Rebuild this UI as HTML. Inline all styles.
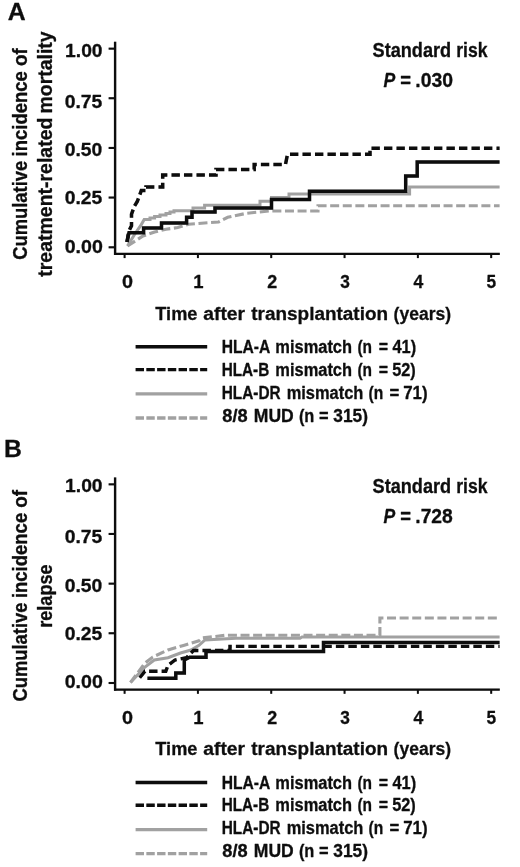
<!DOCTYPE html>
<html lang="en">
<head>
<meta charset="utf-8">
<title>Cumulative incidence curves</title>
<style>
html,body{margin:0;padding:0;background:#ffffff;}
body{width:520px;height:867px;overflow:hidden;font-family:"Liberation Sans",sans-serif;}
svg{display:block;position:absolute;left:0;top:0;opacity:0.999;will-change:transform;}
svg text{font-family:"Liberation Sans",sans-serif;font-weight:bold;fill:#101010;stroke:#101010;stroke-width:0.3px;stroke-linejoin:round;}
</style>
</head>
<body>
<svg width="520" height="867" viewBox="0 0 520 867">
<defs><filter id="soft" x="0" y="0" width="520" height="867" filterUnits="userSpaceOnUse"><feGaussianBlur stdDeviation="0.45"/></filter></defs>
<rect x="0" y="0" width="520" height="867" fill="#ffffff"/>
<g filter="url(#soft)">

<!-- panel letters -->
<text transform="translate(7.78,19.80) scale(1.0498,1.0000)" font-size="23.6">A</text>
<text transform="translate(3.93,457.10) scale(1.0489,1.0000)" font-size="23.6">B</text>
<!-- panel A: axes -->
<path d="M115.1,41.70 V255.00" stroke="#080808" stroke-width="2.4" fill="none"/>
<path d="M114,253.90 H499.8" stroke="#080808" stroke-width="2.3" fill="none"/>
<path d="M108.6,247.30 H115" stroke="#080808" stroke-width="2.1" fill="none"/>
<path d="M108.6,197.55 H115" stroke="#080808" stroke-width="2.1" fill="none"/>
<path d="M108.6,147.95 H115" stroke="#080808" stroke-width="2.1" fill="none"/>
<path d="M108.6,98.25 H115" stroke="#080808" stroke-width="2.1" fill="none"/>
<path d="M108.6,48.65 H115" stroke="#080808" stroke-width="2.1" fill="none"/>
<path d="M124.60,253.90 V258.10" stroke="#080808" stroke-width="2" fill="none"/>
<path d="M197.92,253.90 V258.10" stroke="#080808" stroke-width="2" fill="none"/>
<path d="M271.24,253.90 V258.10" stroke="#080808" stroke-width="2" fill="none"/>
<path d="M344.56,253.90 V258.10" stroke="#080808" stroke-width="2" fill="none"/>
<path d="M417.88,253.90 V258.10" stroke="#080808" stroke-width="2" fill="none"/>
<path d="M491.20,253.90 V258.10" stroke="#080808" stroke-width="2" fill="none"/>
<!-- panel A: tick labels -->
<text transform="translate(64.72,252.50) scale(1.0522,1.0000)" font-size="18.6">0.00</text>
<text transform="translate(64.73,204.20) scale(1.0395,1.0000)" font-size="18.6">0.25</text>
<text transform="translate(64.73,156.20) scale(1.0407,1.0000)" font-size="18.6">0.50</text>
<text transform="translate(64.73,107.50) scale(1.0395,1.0000)" font-size="18.6">0.75</text>
<text transform="translate(65.10,56.60) scale(1.0359,1.0000)" font-size="18.6">1.00</text>
<text transform="translate(122.11,288.10) scale(1.0640,1.0000)" font-size="18.6">0</text>
<text transform="translate(193.14,288.10) scale(0.9943,1.0000)" font-size="18.6">1</text>
<text transform="translate(267.17,288.10) scale(0.9633,1.0000)" font-size="18.6">2</text>
<text transform="translate(340.31,288.10) scale(0.9294,1.0000)" font-size="18.6">3</text>
<text transform="translate(413.44,288.10) scale(0.9446,1.0000)" font-size="18.6">4</text>
<text transform="translate(486.48,288.10) scale(0.9294,1.0000)" font-size="18.6">5</text>
<text transform="translate(155.32,319.50) scale(0.9466,1.0000)" font-size="19.2">Time</text>
<text transform="translate(203.22,319.50) scale(1.0061,1.0000)" font-size="19.2">after</text>
<text transform="translate(251.26,319.50) scale(0.9870,1.0000)" font-size="19.2">transplantation</text>
<text transform="translate(393.62,319.50) scale(0.9123,1.0000)" font-size="19.2">(years)</text>
<!-- panel A: legend -->
<path d="M135.6,346.80 H207.2" stroke="#080808" stroke-width="3.4" fill="none"/>
<path d="M135.6,369.60 H207.2" stroke="#080808" stroke-width="3.4" stroke-dasharray="8.4 2.35" fill="none"/>
<path d="M135.6,393.90 H207.2" stroke="#a1a1a1" stroke-width="3.3" fill="none"/>
<path d="M135.6,418.00 H207.2" stroke="#a1a1a1" stroke-width="3.3" stroke-dasharray="8.4 2.35" fill="none"/>
<text transform="translate(221.65,353.00) scale(0.9299,1.0600)" font-size="16.8">HLA-A</text>
<text transform="translate(275.33,353.00) scale(0.9789,1.0600)" font-size="16.8">mismatch</text>
<text transform="translate(357.43,353.00) scale(0.9224,1.0600)" font-size="16.8">(n</text>
<text transform="translate(378.72,353.00) scale(0.9524,1.0600)" font-size="16.8">=</text>
<text transform="translate(392.45,353.00) scale(0.9748,1.0600)" font-size="16.8">41)</text>
<text transform="translate(221.67,375.50) scale(0.9115,1.0600)" font-size="16.8">HLA-B</text>
<text transform="translate(275.33,375.50) scale(0.9789,1.0600)" font-size="16.8">mismatch</text>
<text transform="translate(357.43,375.50) scale(0.9224,1.0600)" font-size="16.8">(n</text>
<text transform="translate(378.72,375.50) scale(0.9524,1.0600)" font-size="16.8">=</text>
<text transform="translate(392.21,375.50) scale(0.9724,1.0600)" font-size="16.8">52)</text>
<text transform="translate(221.66,398.60) scale(0.9161,1.0600)" font-size="16.8">HLA-DR</text>
<text transform="translate(286.63,398.60) scale(0.9789,1.0600)" font-size="16.8">mismatch</text>
<text transform="translate(368.62,398.60) scale(0.9295,1.0600)" font-size="16.8">(n</text>
<text transform="translate(389.49,398.60) scale(1.0000,1.0600)" font-size="16.8">=</text>
<text transform="translate(403.18,398.60) scale(1.0078,1.0600)" font-size="16.8">71)</text>
<text transform="translate(222.31,421.60) scale(1.0851,1.0600)" font-size="16.8">8/8</text>
<text transform="translate(253.82,421.60) scale(1.0436,1.0600)" font-size="16.8">MUD</text>
<text transform="translate(298.88,421.60) scale(0.9724,1.0600)" font-size="16.8">(n</text>
<text transform="translate(319.10,421.60) scale(0.9762,1.0600)" font-size="16.8">=</text>
<text transform="translate(333.31,421.60) scale(1.0314,1.0600)" font-size="16.8">315)</text>
<!-- panel A: annotation -->
<text transform="translate(372.56,57.00) scale(1.0082,1.0800)" font-size="18.0">Standard</text>
<text transform="translate(456.26,57.00) scale(0.9783,1.0800)" font-size="18.0">risk</text>
<text transform="translate(383.43,87.40) scale(0.9771,1.0900)" font-size="18.0" font-style="italic">P</text>
<text transform="translate(400.22,87.40) scale(1.0222,1.0900)" font-size="18.0">=</text>
<text transform="translate(415.29,87.40) scale(1.0763,1.0900)" font-size="18.0">.030</text>
<!-- panel B: axes -->
<path d="M115.1,477.40 V690.70" stroke="#080808" stroke-width="2.4" fill="none"/>
<path d="M114,689.60 H499.8" stroke="#080808" stroke-width="2.3" fill="none"/>
<path d="M108.6,683.00 H115" stroke="#080808" stroke-width="2.1" fill="none"/>
<path d="M108.6,633.25 H115" stroke="#080808" stroke-width="2.1" fill="none"/>
<path d="M108.6,583.65 H115" stroke="#080808" stroke-width="2.1" fill="none"/>
<path d="M108.6,533.95 H115" stroke="#080808" stroke-width="2.1" fill="none"/>
<path d="M108.6,484.35 H115" stroke="#080808" stroke-width="2.1" fill="none"/>
<path d="M124.60,689.60 V693.80" stroke="#080808" stroke-width="2" fill="none"/>
<path d="M197.92,689.60 V693.80" stroke="#080808" stroke-width="2" fill="none"/>
<path d="M271.24,689.60 V693.80" stroke="#080808" stroke-width="2" fill="none"/>
<path d="M344.56,689.60 V693.80" stroke="#080808" stroke-width="2" fill="none"/>
<path d="M417.88,689.60 V693.80" stroke="#080808" stroke-width="2" fill="none"/>
<path d="M491.20,689.60 V693.80" stroke="#080808" stroke-width="2" fill="none"/>
<!-- panel B: tick labels -->
<text transform="translate(64.72,688.20) scale(1.0522,1.0000)" font-size="18.6">0.00</text>
<text transform="translate(64.73,639.90) scale(1.0395,1.0000)" font-size="18.6">0.25</text>
<text transform="translate(64.73,591.90) scale(1.0407,1.0000)" font-size="18.6">0.50</text>
<text transform="translate(64.73,543.20) scale(1.0395,1.0000)" font-size="18.6">0.75</text>
<text transform="translate(65.10,492.30) scale(1.0359,1.0000)" font-size="18.6">1.00</text>
<text transform="translate(122.11,723.80) scale(1.0640,1.0000)" font-size="18.6">0</text>
<text transform="translate(193.14,723.80) scale(0.9943,1.0000)" font-size="18.6">1</text>
<text transform="translate(267.17,723.80) scale(0.9633,1.0000)" font-size="18.6">2</text>
<text transform="translate(340.31,723.80) scale(0.9294,1.0000)" font-size="18.6">3</text>
<text transform="translate(413.44,723.80) scale(0.9446,1.0000)" font-size="18.6">4</text>
<text transform="translate(486.48,723.80) scale(0.9294,1.0000)" font-size="18.6">5</text>
<text transform="translate(155.32,755.20) scale(0.9466,1.0000)" font-size="19.2">Time</text>
<text transform="translate(203.22,755.20) scale(1.0061,1.0000)" font-size="19.2">after</text>
<text transform="translate(251.26,755.20) scale(0.9870,1.0000)" font-size="19.2">transplantation</text>
<text transform="translate(393.62,755.20) scale(0.9123,1.0000)" font-size="19.2">(years)</text>
<!-- panel B: legend -->
<path d="M135.6,782.50 H207.2" stroke="#080808" stroke-width="3.4" fill="none"/>
<path d="M135.6,805.30 H207.2" stroke="#080808" stroke-width="3.4" stroke-dasharray="8.4 2.35" fill="none"/>
<path d="M135.6,829.60 H207.2" stroke="#a1a1a1" stroke-width="3.3" fill="none"/>
<path d="M135.6,853.70 H207.2" stroke="#a1a1a1" stroke-width="3.3" stroke-dasharray="8.4 2.35" fill="none"/>
<text transform="translate(221.65,788.70) scale(0.9299,1.0600)" font-size="16.8">HLA-A</text>
<text transform="translate(275.33,788.70) scale(0.9789,1.0600)" font-size="16.8">mismatch</text>
<text transform="translate(357.43,788.70) scale(0.9224,1.0600)" font-size="16.8">(n</text>
<text transform="translate(378.72,788.70) scale(0.9524,1.0600)" font-size="16.8">=</text>
<text transform="translate(392.45,788.70) scale(0.9748,1.0600)" font-size="16.8">41)</text>
<text transform="translate(221.67,811.20) scale(0.9115,1.0600)" font-size="16.8">HLA-B</text>
<text transform="translate(275.33,811.20) scale(0.9789,1.0600)" font-size="16.8">mismatch</text>
<text transform="translate(357.43,811.20) scale(0.9224,1.0600)" font-size="16.8">(n</text>
<text transform="translate(378.72,811.20) scale(0.9524,1.0600)" font-size="16.8">=</text>
<text transform="translate(392.21,811.20) scale(0.9724,1.0600)" font-size="16.8">52)</text>
<text transform="translate(221.66,834.30) scale(0.9161,1.0600)" font-size="16.8">HLA-DR</text>
<text transform="translate(286.63,834.30) scale(0.9789,1.0600)" font-size="16.8">mismatch</text>
<text transform="translate(368.62,834.30) scale(0.9295,1.0600)" font-size="16.8">(n</text>
<text transform="translate(389.49,834.30) scale(1.0000,1.0600)" font-size="16.8">=</text>
<text transform="translate(403.18,834.30) scale(1.0078,1.0600)" font-size="16.8">71)</text>
<text transform="translate(222.31,857.30) scale(1.0851,1.0600)" font-size="16.8">8/8</text>
<text transform="translate(253.82,857.30) scale(1.0436,1.0600)" font-size="16.8">MUD</text>
<text transform="translate(298.88,857.30) scale(0.9724,1.0600)" font-size="16.8">(n</text>
<text transform="translate(319.10,857.30) scale(0.9762,1.0600)" font-size="16.8">=</text>
<text transform="translate(333.31,857.30) scale(1.0314,1.0600)" font-size="16.8">315)</text>
<!-- panel B: annotation -->
<text transform="translate(372.56,492.70) scale(1.0082,1.0800)" font-size="18.0">Standard</text>
<text transform="translate(456.26,492.70) scale(0.9783,1.0800)" font-size="18.0">risk</text>
<text transform="translate(383.45,523.10) scale(0.9739,1.0900)" font-size="18.0" font-style="italic">P</text>
<text transform="translate(400.22,523.10) scale(1.0222,1.0900)" font-size="18.0">=</text>
<text transform="translate(415.30,523.10) scale(1.0705,1.0900)" font-size="18.0">.728</text>
<!-- panel A: y-axis title -->
<text transform="translate(26.60,259.84) rotate(-90) scale(0.9996,1.0600)" font-size="18.4">Cumulative</text>
<text transform="translate(26.60,156.39) rotate(-90) scale(1.0050,1.0600)" font-size="18.4">incidence</text>
<text transform="translate(26.60,66.05) rotate(-90) scale(1.0209,1.0600)" font-size="18.4">of</text>
<text transform="translate(52.00,276.74) rotate(-90) scale(1.0594,1.0500)" font-size="18.4">treatment-related</text>
<text transform="translate(52.00,113.46) rotate(-90) scale(1.0562,1.0500)" font-size="18.4">mortality</text>
<!-- panel B: y-axis title -->
<text transform="translate(26.60,701.54) rotate(-90) scale(0.9996,1.0600)" font-size="18.4">Cumulative</text>
<text transform="translate(26.60,598.09) rotate(-90) scale(1.0050,1.0600)" font-size="18.4">incidence</text>
<text transform="translate(26.60,507.75) rotate(-90) scale(1.0209,1.0600)" font-size="18.4">of</text>
<text transform="translate(52.00,627.78) rotate(-90) scale(0.9832,1.0500)" font-size="18.4">relapse</text>
<!-- panel A: curves -->
<path d="M127.5,246 L143,236 L154.6,232 L166,229.2 L177.7,227.6 L188.5,224.2 L218.5,222 L227.7,217.3 L246,213.4 L269,211 H318 V205.8 H499.6" stroke="#a1a1a1" stroke-width="3.1" stroke-dasharray="9.0 3.6" fill="none" stroke-linejoin="miter"/>
<path d="M127.5,246 L135,233.8 L141.3,224.6 L144.2,219.4 H150 V218 H154.6 V216.5 H160 V215 H166 V213.6 H170 V212 H174 V210.8 H193 V208 H204.6 V205.3 H260 V201.2 H271.5 V197.5 H289 V194 H409.6 V187 H499.6" stroke="#a1a1a1" stroke-width="3.0" fill="none" stroke-linejoin="miter"/>
<path d="M127,242 L129,232.7 H143.6 V228 H161.5 V223 H186.6 V217.3 H192 V212 H215 V208 H271.5 V199.5 H309.5 V191.3 H405.7 V176 H417.2 V162 H499.6" stroke="#080808" stroke-width="3.5" fill="none" stroke-linejoin="miter"/>
<path d="M127,242 L128.7,231.5 L131.5,225.8 V214.2 L134.4,206.2 L137.3,201.5 L141.3,190.6 H146 V187 H162.7 V175 H216 V169.5 H254.2 V164.4 H285.5 L287.5,154.2 H370 V148.2 H499.6" stroke="#080808" stroke-width="3.5" stroke-dasharray="8.4 4.1" fill="none" stroke-linejoin="miter"/>
<!-- panel B: curves -->
<path d="M130.5,682.5 L145,663 L152.8,657 L168,650 L183.5,645.4 L199,640.8 L202,638 L225,635.3 H379.9 V618 H499.6" stroke="#a1a1a1" stroke-width="3.1" stroke-dasharray="9.0 3.6" fill="none" stroke-linejoin="miter"/>
<path d="M130.5,682.5 L145,667 L154.3,660 L168,657.7 L180.5,653 L191,650 L199,645.4 L205,640 L236,638.2 H300 L302,637 H499.6" stroke="#a1a1a1" stroke-width="3.0" fill="none" stroke-linejoin="miter"/>
<path d="M139.7,677.7 L145,671.2 H165.8 L168,665.4 L175,660 L179.7,659 L186.6,657.7 L193.5,650.5 H230 V646.4 H499.6" stroke="#080808" stroke-width="3.4" stroke-dasharray="8.4 4.1" fill="none" stroke-linejoin="miter"/>
<path d="M147.4,678.2 H175.8 V673 H184.3 V660 L189.7,657.2 H206 V651.5 H323.5 V642.4 H499.6" stroke="#080808" stroke-width="3.5" fill="none" stroke-linejoin="miter"/>
</g>
</svg>
</body>
</html>
